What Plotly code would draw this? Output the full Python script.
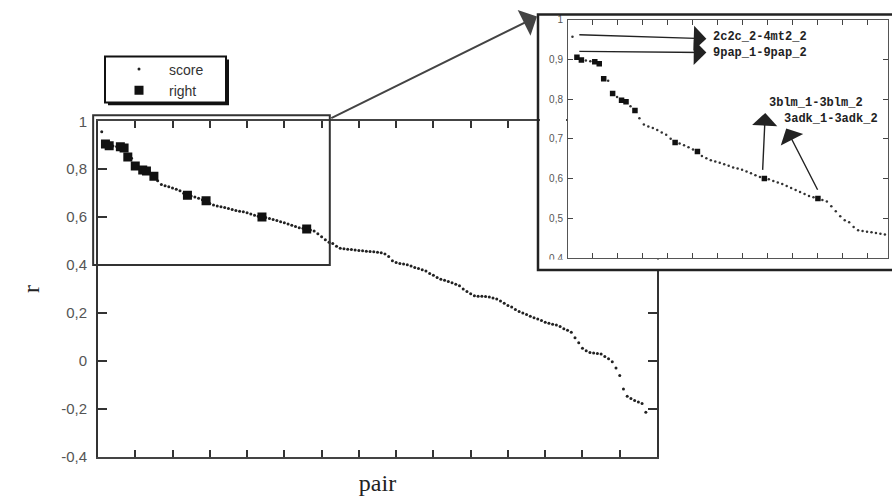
import plotly.graph_objects as go

# ---------------- data ----------------
pair = list(range(1, 148))
score = [
    0.957, 0.905, 0.898, 0.897, 0.895, 0.894, 0.889, 0.851, 0.846, 0.814,
    0.805, 0.797, 0.793, 0.782, 0.771, 0.752, 0.736, 0.731, 0.727, 0.722,
    0.716, 0.710, 0.700, 0.691, 0.688, 0.684, 0.679, 0.673, 0.668, 0.657,
    0.651, 0.646, 0.643, 0.640, 0.636, 0.632, 0.628, 0.625, 0.622, 0.618,
    0.613, 0.608, 0.604, 0.600, 0.598, 0.594, 0.590, 0.586, 0.581, 0.576,
    0.571, 0.566, 0.561, 0.556, 0.553, 0.550, 0.546, 0.542, 0.530, 0.518,
    0.505, 0.495, 0.490, 0.478, 0.470, 0.468, 0.466, 0.465, 0.463, 0.461,
    0.459, 0.457, 0.456, 0.455, 0.453, 0.451, 0.446, 0.435, 0.418, 0.410,
    0.406, 0.404, 0.401, 0.396, 0.390, 0.385, 0.380, 0.375, 0.365, 0.357,
    0.348, 0.341, 0.336, 0.331, 0.326, 0.320, 0.313, 0.300, 0.289, 0.280,
    0.272, 0.270, 0.269, 0.268, 0.266, 0.262, 0.258, 0.250, 0.240, 0.231,
    0.225, 0.214, 0.206, 0.200, 0.193, 0.186, 0.180, 0.174, 0.168, 0.161,
    0.157, 0.153, 0.149, 0.143, 0.134, 0.128, 0.119, 0.096, 0.075, 0.052,
    0.042, 0.035, 0.032, 0.030, 0.028, 0.018, 0.008, -0.004, -0.030, -0.062,
    -0.118, -0.148, -0.158, -0.166, -0.172, -0.178, -0.215,
]
right_pairs = [2, 3, 6, 7, 8, 10, 12, 13, 15, 24, 29, 44, 56]
right_scores = [score[p - 1] for p in right_pairs]

main_yticks = [-0.4, -0.2, 0.0, 0.2, 0.4, 0.6, 0.8, 1.0]
main_yticktext = ["-0,4", "-0,2", "0", "0,2", "0,4", "0,6", "0,8", "1"]
inset_yticks = [0.4, 0.5, 0.6, 0.7, 0.8, 0.9, 1.0]
inset_yticktext = ["0,4", "0,5", "0,6", "0,7", "0,8", "0,9", "1"]
labels = ["2c2c_2-4mt2_2", "9pap_1-9pap_2", "3blm_1-3blm_2", "3adk_1-3adk_2"]

# ---------------- layout helpers ----------------
W, H = 892, 496
# vertical correction observed for the capture (offset, scale)
Y_OFF, Y_SCALE = 7.4, 0.968


def fx(px):
    return px / W


def fy(py):
    return 1 - ((py - Y_OFF) / Y_SCALE) / H


MAIN_L, MAIN_R, MAIN_T, MAIN_B = 98, 657, 120, 456
INS_L, INS_R, INS_T, INS_B = 568, 888, 18, 257
MAIN_XR = [0, 150]
MAIN_YR = [-0.4, 1.0]
INS_XR = [0, 71.7]
INS_YR = [0.4, 1.0]


def main_px(u, v):
    x = MAIN_L + (u - MAIN_XR[0]) * (MAIN_R - MAIN_L) / (MAIN_XR[1] - MAIN_XR[0])
    y = MAIN_B - (v - MAIN_YR[0]) * (MAIN_B - MAIN_T) / (MAIN_YR[1] - MAIN_YR[0])
    return x, y


fig = go.Figure()

fig.add_trace(go.Scatter(
    x=pair, y=score, mode="markers", name="score",
    marker=dict(size=3, color="#222222"), xaxis="x", yaxis="y"))
fig.add_trace(go.Scatter(
    x=right_pairs, y=right_scores, mode="markers", name="right",
    marker=dict(size=9, symbol="square", color="#111111"), xaxis="x", yaxis="y"))
fig.add_trace(go.Scatter(
    x=pair, y=score, mode="markers", showlegend=False,
    marker=dict(size=2.5, color="#333333"), xaxis="x2", yaxis="y2"))
fig.add_trace(go.Scatter(
    x=right_pairs, y=right_scores, mode="markers", showlegend=False,
    marker=dict(size=5.5, symbol="square", color="#111111"), xaxis="x2", yaxis="y2"))

axis_font = dict(family="Liberation Sans, Arial, sans-serif", size=15, color="#555555")
inset_font = dict(family="Liberation Sans, Arial, sans-serif", size=10, color="#555555")

shapes = []
# zoom rectangle on main plot
zx0, zy0 = main_px(-1.3, 1.025)
zx1, zy1 = main_px(62.2, 0.4)
shapes.append(dict(type="rect", xref="paper", yref="paper",
                   x0=fx(zx0), x1=fx(zx1), y0=fy(zy1), y1=fy(zy0),
                   line=dict(color="#333333", width=2), layer="above"))
# masks hiding the main frame behind the inset margins
shapes.append(dict(type="rect", xref="paper", yref="paper",
                   x0=fx(540), x1=fx(566), y0=fy(128), y1=fy(115),
                   fillcolor="white", line=dict(width=0), layer="above"))
shapes.append(dict(type="rect", xref="paper", yref="paper",
                   x0=fx(540), x1=fx(892), y0=fy(269), y1=fy(258.5),
                   fillcolor="white", line=dict(width=0), layer="above"))
# inset frame
shapes.append(dict(type="rect", xref="paper", yref="paper",
                   x0=fx(538), x1=fx(896), y0=fy(269), y1=fy(13),
                   line=dict(color="#222222", width=2.5), layer="above"))
# legend box with shadow
shapes.append(dict(type="rect", xref="paper", yref="paper",
                   x0=fx(108), x1=fx(229), y0=fy(104), y1=fy(58),
                   fillcolor="#111111", line=dict(width=0), layer="above"))
shapes.append(dict(type="rect", xref="paper", yref="paper",
                   x0=fx(105), x1=fx(226), y0=fy(101), y1=fy(55),
                   fillcolor="white", line=dict(color="#111111", width=2), layer="above"))

annotations = []
# big arrow from zoom box to inset
annotations.append(dict(
    xref="paper", yref="paper", x=fx(537), y=fy(15), text="",
    showarrow=True, ax=zx1 - 537, ay=(zy0 - 15) / Y_SCALE, axref="pixel", ayref="pixel",
    arrowhead=1, arrowsize=2.4, arrowwidth=2, arrowcolor="#444444",
    standoff=0, startstandoff=0))

mono = dict(family="Liberation Mono, Courier New, monospace", size=12, color="#222222")
# arrows in inset: (tail u, tail v, head u, head v)
arrow_specs = [
    (2.2, 0.962, 31.0, 0.952),
    (2.2, 0.920, 31.0, 0.917),
    (43.6, 0.618, 44.2, 0.765),
    (56.1, 0.568, 48.9, 0.726),
]
text_pos = [(32.0, 0.955), (32.0, 0.917), (44.6, 0.789), (48.0, 0.749)]
for (tu, tv, hu, hv) in arrow_specs:
    annotations.append(dict(
        xref="x2", yref="y2", x=hu, y=hv, text="", showarrow=True,
        axref="x2", ayref="y2", ax=tu, ay=tv,
        arrowhead=1, arrowsize=3, arrowwidth=1.4, arrowcolor="#222222",
        standoff=0, startstandoff=0))
for lab, (u, v) in zip(labels, text_pos):
    annotations.append(dict(
        xref="x2", yref="y2", x=u, y=v, text="<b>" + lab + "</b>",
        showarrow=False, xanchor="left", yanchor="middle", font=mono))

fig.update_layout(
    width=W, height=H, autosize=False,
    margin=dict(l=0, r=0, t=0, b=0),
    paper_bgcolor="white", plot_bgcolor="white",
    showlegend=True,
    legend=dict(x=fx(109), y=fy(52), xanchor="left", yanchor="top",
                bgcolor="rgba(0,0,0,0)", borderwidth=0,
                font=dict(family="Liberation Sans, Arial, sans-serif", size=14, color="#333333"),
                itemwidth=50, tracegroupgap=0),
    xaxis=dict(domain=[fx(MAIN_L), fx(MAIN_R)], range=MAIN_XR, dtick=10,
               showticklabels=False, ticks="inside", ticklen=7, tickwidth=1.5,
               tickcolor="#333333", showline=True, linecolor="#444444", linewidth=1.5,
               mirror="ticks", showgrid=False, zeroline=False,
               title=dict(text="pair", standoff=20,
                          font=dict(family="Liberation Serif, Times New Roman, serif",
                                    size=24, color="#222222"))),
    yaxis=dict(domain=[fy(MAIN_B), fy(MAIN_T)], range=MAIN_YR,
               tickvals=main_yticks, ticktext=main_yticktext, tickfont=axis_font,
               ticks="inside", ticklen=9, tickwidth=1.5, tickcolor="#333333",
               showline=True, linecolor="#333333", linewidth=2, mirror="ticks",
               showgrid=False, zeroline=False, ticklabelstandoff=6,
               title=dict(text="r", standoff=15,
                          font=dict(family="Liberation Serif, Times New Roman, serif",
                                    size=24, color="#222222"))),
    xaxis2=dict(domain=[fx(INS_L), fx(INS_R)], range=INS_XR, dtick=5.6, tick0=0,
                anchor="y2", showticklabels=False, ticks="inside", ticklen=5,
                tickwidth=1, tickcolor="#444444", showline=True,
                linecolor="#555555", linewidth=1, mirror="ticks",
                showgrid=False, zeroline=False),
    yaxis2=dict(domain=[fy(INS_B), fy(INS_T)], range=INS_YR, anchor="x2",
                tickvals=inset_yticks, ticktext=inset_yticktext, tickfont=inset_font,
                ticks="inside", ticklen=5, tickwidth=1, tickcolor="#444444",
                showline=True, linecolor="#555555", linewidth=1, mirror="ticks",
                showgrid=False, zeroline=False, ticklabelstandoff=2),
    shapes=shapes,
    annotations=annotations,
)

fig.write_html("out.html",
               config={"displayModeBar": False, "responsive": False},
               post_script="document.body.style.margin='0';document.body.style.overflow='hidden';")
